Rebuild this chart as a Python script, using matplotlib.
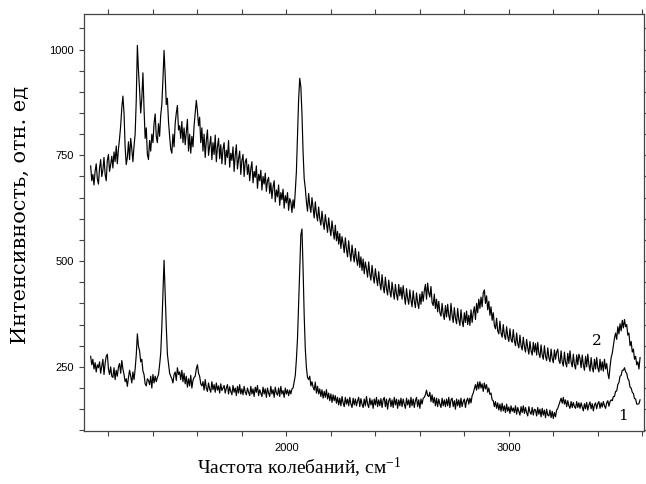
import numpy as np
import matplotlib.pyplot as plt
from matplotlib.ticker import MultipleLocator

plt.rcParams['mathtext.fontset'] = 'custom'
plt.rcParams['mathtext.rm'] = 'Liberation Serif'
plt.rcParams['mathtext.it'] = 'Liberation Serif:italic'

# spectra, 5 cm-1 step starting at 1120 cm-1
start_wn = 1120
step_wn = 5

# spectrum 2 (upper curve)
spectrum_2 = [
    725, 690, 705, 680, 712, 730, 695, 682, 720, 740, 700, 715, 745, 705, 690, 738, 752, 712, 728, 748,
    720, 758, 735, 772, 730, 765, 790, 820, 862, 890, 850, 770, 728, 745, 782, 740, 790, 765, 735, 772,
    800, 880, 1010, 950, 905, 850, 885, 945, 860, 790, 815, 752, 740, 785, 760, 800, 780, 825, 848, 795,
    780, 825, 795, 845, 870, 930, 998, 940, 870, 885, 830, 795, 765, 755, 800, 770, 825, 850, 868, 810,
    820, 790, 830, 780, 815, 775, 805, 835, 760, 800, 755, 795, 770, 820, 850, 880, 855, 820, 840, 780,
    815, 760, 800, 745, 785, 810, 750, 772, 795, 740, 780, 752, 798, 735, 770, 790, 742, 775, 730, 765,
    780, 728, 762, 745, 785, 722, 755, 738, 770, 712, 750, 775, 718, 742, 760, 705, 738, 752, 700, 735,
    742, 705, 728, 690, 718, 735, 685, 712, 698, 725, 672, 705, 690, 715, 668, 700, 682, 708, 665, 690,
    698, 660, 685, 648, 675, 690, 640, 668, 652, 680, 632, 662, 645, 670, 625, 655, 638, 662, 620, 648,
    640, 615, 645, 625, 665, 712, 795, 882, 932, 912, 848, 758, 695, 672, 640, 618, 660, 632, 615, 650,
    625, 602, 640, 612, 595, 628, 600, 585, 618, 592, 575, 610, 588, 568, 602, 578, 560, 595, 572, 552,
    585, 548, 570, 540, 565, 530, 558, 542, 520, 555, 528, 510, 548, 520, 500, 538, 515, 498, 530, 505,
    490, 522, 485, 510, 478, 505, 470, 498, 482, 462, 498, 470, 455, 490, 465, 448, 482, 460, 442, 475,
    448, 432, 468, 440, 425, 462, 435, 420, 455, 430, 415, 450, 428, 410, 445, 422, 408, 445, 418, 438,
    410, 442, 418, 398, 435, 412, 398, 432, 408, 392, 430, 405, 390, 425, 402, 388, 422, 398, 428, 405,
    430, 445, 410, 448, 425, 415, 440, 402, 395, 422, 388, 410, 380, 405, 378, 370, 400, 375, 362, 395,
    368, 398, 372, 360, 400, 372, 355, 390, 365, 352, 388, 362, 348, 385, 358, 345, 378, 355, 382, 350,
    372, 348, 385, 355, 378, 392, 362, 400, 378, 410, 388, 415, 392, 425, 432, 400, 418, 385, 405, 372,
    392, 360, 378, 348, 340, 365, 335, 328, 358, 330, 320, 350, 325, 315, 345, 322, 310, 340, 315, 308,
    338, 312, 300, 330, 305, 295, 325, 300, 290, 320, 298, 285, 315, 295, 280, 310, 288, 278, 308, 285,
    305, 278, 308, 282, 272, 302, 278, 268, 300, 275, 265, 295, 272, 262, 292, 270, 260, 290, 268, 285,
    292, 265, 258, 288, 262, 252, 285, 260, 250, 282, 258, 288, 262, 250, 280, 255, 245, 278, 255, 280,
    270, 248, 278, 255, 242, 275, 250, 280, 255, 240, 272, 248, 238, 268, 245, 272, 248, 238, 268, 242,
    262, 240, 268, 245, 258, 235, 222, 250, 272, 282, 300, 318, 330, 315, 345, 328, 352, 335, 360, 342,
    362, 345, 350, 325, 330, 300, 310, 285, 292, 268, 275, 255, 262, 245, 272,
]

# spectrum 1 (lower curve)
spectrum_1 = [
    275, 255, 268, 245, 260, 238, 255, 248, 262, 235, 252, 268, 232, 258, 275, 280, 245, 232, 250, 228,
    225, 248, 220, 242, 228, 250, 258, 235, 265, 245, 232, 215, 222, 204, 225, 242, 228, 212, 238, 220,
    245, 278, 328, 298, 288, 262, 268, 240, 232, 210, 205, 222, 218, 208, 228, 200, 232, 212, 228, 215,
    225, 232, 255, 282, 345, 422, 502, 425, 345, 280, 258, 235, 228, 222, 212, 232, 238, 218, 248, 232,
    238, 220, 242, 215, 235, 210, 228, 202, 222, 205, 230, 200, 218, 225, 228, 245, 255, 235, 228, 210,
    205, 215, 195, 220, 200, 192, 212, 198, 190, 215, 196, 208, 190, 212, 195, 205, 188, 210, 194, 200,
    206, 188, 200, 208, 186, 203, 192, 184, 206, 190, 200, 182, 204, 188, 208, 186, 198, 184, 204, 190,
    184, 200, 190, 182, 204, 186, 198, 180, 202, 190, 206, 182, 196, 188, 180, 202, 186, 198, 178, 200,
    188, 180, 204, 186, 196, 178, 202, 188, 183, 200, 180, 204, 186, 194, 178, 200, 186, 196, 182, 195,
    186, 198, 200, 215, 230, 268, 318, 402, 488, 562, 576, 482, 372, 292, 248, 225, 220, 228, 205, 215,
    202, 195, 214, 188, 204, 186, 198, 180, 196, 176, 192, 178, 196, 174, 188, 170, 186, 166, 184, 170,
    182, 164, 178, 160, 176, 158, 180, 165, 156, 178, 162, 174, 158, 178, 162, 154, 176, 160, 174, 158,
    170, 178, 156, 175, 162, 154, 174, 158, 180, 162, 154, 176, 160, 172, 152, 174, 160, 178, 156, 172,
    158, 175, 154, 172, 178, 156, 174, 150, 170, 176, 156, 172, 154, 178, 160, 174, 152, 172, 158, 176,
    156, 174, 162, 152, 176, 160, 172, 154, 178, 158, 174, 154, 170, 178, 156, 172, 152, 174, 162, 176,
    178, 184, 195, 182, 180, 190, 168, 184, 165, 178, 158, 176, 156, 174, 162, 154, 176, 158, 172, 156,
    174, 158, 178, 154, 172, 176, 156, 170, 150, 174, 158, 172, 154, 176, 156, 168, 174, 154, 170, 176,
    162, 176, 165, 182, 188, 198, 208, 195, 214, 198, 215, 200, 210, 192, 212, 198, 208, 190, 200, 185,
    188, 172, 170, 156, 168, 152, 165, 148, 162, 145, 164, 146, 158, 142, 162, 145, 155, 140, 158, 145,
    153, 142, 158, 138, 154, 145, 136, 156, 142, 158, 140, 154, 142, 134, 156, 143, 138, 154, 136, 150,
    148, 134, 154, 138, 150, 132, 152, 136, 148, 130, 150, 136, 134, 148, 130, 145, 128, 142, 132, 148,
    152, 160, 168, 176, 164, 178, 162, 172, 156, 170, 158, 152, 168, 154, 166, 156, 152, 168, 154, 165,
    152, 165, 155, 146, 163, 151, 166, 148, 160, 167, 151, 163, 146, 160, 165, 151, 163, 168, 152, 165,
    155, 168, 158, 152, 165, 170, 157, 168, 172, 170, 180, 180, 192, 193, 208, 213, 228, 230, 242, 242,
    248, 238, 235, 222, 218, 202, 200, 190, 187, 175, 174, 162, 162, 163, 172,
]

wn_2 = start_wn + step_wn * np.arange(len(spectrum_2))
wn_1 = start_wn + step_wn * np.arange(len(spectrum_1))

fig = plt.figure(figsize=(6.46, 4.84), dpi=100)
ax = fig.add_axes([0.130, 0.110, 0.867, 0.861])

ax.plot(wn_2, spectrum_2, color='black', lw=0.85)
ax.plot(wn_1, spectrum_1, color='black', lw=0.85)

# curve numbers
ax.text(3395, 311, '2', family='DejaVu Serif', fontsize=11, ha='center', va='center')
ax.text(3512, 133, '1', family='DejaVu Serif', fontsize=11, ha='center', va='center')

ax.set_xlim(1090, 3608)
ax.set_ylim(99, 1084)

ax.xaxis.set_major_locator(MultipleLocator(1000))
ax.xaxis.set_minor_locator(MultipleLocator(200))
ax.yaxis.set_major_locator(MultipleLocator(250))
ax.yaxis.set_minor_locator(MultipleLocator(50))
ax.tick_params(which='both', direction='out', length=3.5, width=0.8, color='#444444',
               top=True, right=True)
ax.tick_params(axis='x', labelsize=8, pad=5.5)
ax.tick_params(axis='y', labelsize=8, pad=4)
for lab in ax.get_xticklabels() + ax.get_yticklabels():
    lab.set_family('Liberation Sans')
for sp in ax.spines.values():
    sp.set_color('#444444')
    sp.set_linewidth(0.9)

fig.text(0.463, 0.033, 'Частота колебаний, см$^{-1}$', family='Liberation Serif',
         fontsize=14, ha='center', va='center')
fig.text(0.032, 0.556, 'Интенсивность, отн. ед', family='DejaVu Serif',
         fontsize=15, ha='center', va='center', rotation=90)

fig.savefig('out.png', dpi=100)
